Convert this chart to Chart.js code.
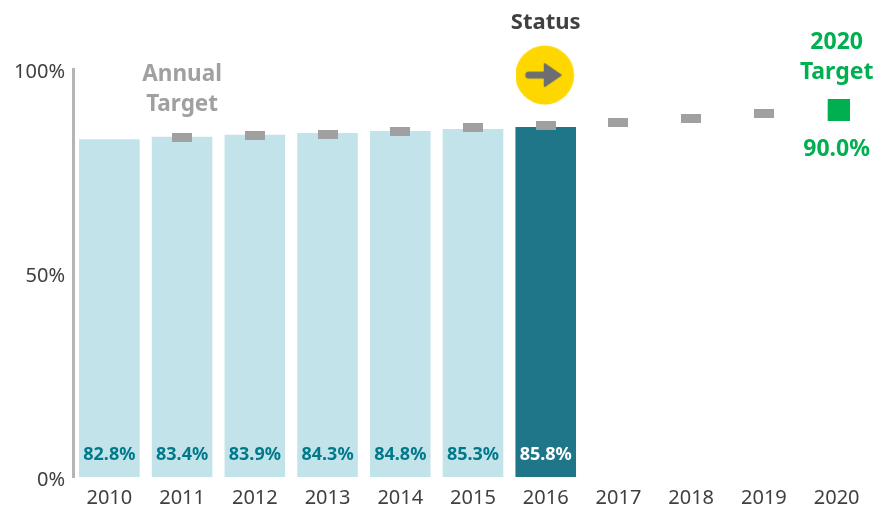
<!DOCTYPE html>
<html>
<head>
<meta charset="utf-8">
<style>
    html, body { margin: 0; padding: 0; background: #fff; }
    canvas { display: block; }
</style>
<script src="https://cdn.jsdelivr.net/npm/chart.js@4"></script>
</head>
<body>
<canvas id="targetChart" width="889" height="508"></canvas>
<script>
// chart data
const years = ['2010', '2011', '2012', '2013', '2014', '2015', '2016', '2017', '2018', '2019', '2020'];
const actualValues = [82.8, 83.4, 83.9, 84.3, 84.8, 85.3, 85.8, null, null, null, null];
const annualTargets = [null, 83.1, 83.7, 84.0, 84.8, 85.7, 86.1, 86.9, 87.9, 89.1, null];
const finalTarget = [null, null, null, null, null, null, null, null, null, null, 90.0];
const statusMarker = [null, null, null, null, null, null, 98.5, null, null, null, null];
const yTicks = [0, 50, 100];

const FONT = '"Noto Sans", "Open Sans", sans-serif';
const LIGHT_BAR = '#C2E3EA';
const DARK_BAR = '#1F7689';
const GREY = '#A0A0A0';
const GREEN = '#00B050';

// grey dash for the annual targets, wider than the built in rect style
function makeTargetDash() {
    var c = document.createElement('canvas');
    c.width = 20;
    c.height = 9;
    var g = c.getContext('2d');
    g.fillStyle = GREY;
    g.fillRect(0, 0, 20, 9);
    return c;
}

// green square, sits a little right of the category centre in the original
function makeFinalSquare() {
    var c = document.createElement('canvas');
    c.width = 26;
    c.height = 22;
    var g = c.getContext('2d');
    g.fillStyle = GREEN;
    g.fillRect(4, 0, 22, 22);
    return c;
}

// yellow circle with the sideways arrow
function makeStatusIcon() {
    var c = document.createElement('canvas');
    c.width = 60;
    c.height = 60;
    var g = c.getContext('2d');
    g.fillStyle = '#FFD700';
    g.beginPath();
    g.arc(29, 30, 29.4, 0, Math.PI * 2);
    g.fill();
    g.fillStyle = '#6D6E71';
    g.strokeStyle = '#6D6E71';
    g.lineCap = 'round';
    g.lineWidth = 7;
    g.beginPath();
    g.moveTo(13, 30);
    g.lineTo(31, 30);
    g.stroke();
    g.lineJoin = 'round';
    g.lineWidth = 2;
    g.beginPath();
    g.moveTo(29, 19);
    g.lineTo(45, 30);
    g.lineTo(29, 41);
    g.closePath();
    g.fill();
    g.stroke();
    return c;
}

function drawText(ctx, text, x, y, font, color) {
    ctx.font = font;
    ctx.fillStyle = color;
    ctx.textAlign = 'center';
    ctx.textBaseline = 'alphabetic';
    ctx.fillText(text, x, y);
}

const labelsPlugin = {
    id: 'labelsPlugin',
    afterDraw(chart) {
        var ctx = chart.ctx;
        var xs = chart.scales.x;
        ctx.save();

        // values inside the bars
        actualValues.forEach((v, i) => {
            if (v === null) return;
            var color = i === 6 ? '#FFFFFF' : '#007A8A';
            drawText(ctx, v.toFixed(1) + '%', xs.getPixelForValue(i), 460, 'bold 18px ' + FONT, color);
        });

        drawText(ctx, 'Annual', xs.getPixelForValue(1), 81, 'bold 22.5px ' + FONT, GREY);
        drawText(ctx, 'Target', xs.getPixelForValue(1), 111, 'bold 22.5px ' + FONT, GREY);
        drawText(ctx, 'Status', xs.getPixelForValue(6), 29, 'bold 22px ' + FONT, '#404040');
        drawText(ctx, '2020', xs.getPixelForValue(10), 49, 'bold 23px ' + FONT, GREEN);
        drawText(ctx, 'Target', xs.getPixelForValue(10), 79, 'bold 23px ' + FONT, GREEN);
        drawText(ctx, finalTarget[10].toFixed(1) + '%', xs.getPixelForValue(10), 156, 'bold 23px ' + FONT, GREEN);

        ctx.restore();
    }
};

var ctx = document.getElementById('targetChart').getContext('2d');
var chart = new Chart(ctx, {
    type: 'bar',
    data: {
        labels: years,
        datasets: [
            {
                label: 'Actual',
                data: actualValues,
                backgroundColor: years.map((y, i) => i === 6 ? DARK_BAR : LIGHT_BAR),
                categoryPercentage: 1,
                barPercentage: 0.833,
                order: 4
            },
            {
                type: 'line',
                label: 'Annual Target',
                data: annualTargets,
                showLine: false,
                pointStyle: makeTargetDash(),
                clip: false,
                order: 3
            },
            {
                type: 'line',
                label: '2020 Target',
                data: finalTarget,
                showLine: false,
                pointStyle: makeFinalSquare(),
                clip: false,
                order: 2
            },
            {
                type: 'line',
                label: 'Status',
                data: statusMarker,
                showLine: false,
                pointStyle: makeStatusIcon(),
                clip: false,
                order: 1
            }
        ]
    },
    options: {
        responsive: false,
        animation: false,
        layout: {
            padding: { top: 69, right: 16, left: 0, bottom: 0 }
        },
        plugins: {
            legend: { display: false },
            tooltip: { enabled: false }
        },
        scales: {
            x: {
                grid: { display: false, drawTicks: false },
                border: { display: false },
                ticks: {
                    color: '#404040',
                    font: { family: FONT, size: 20 },
                    padding: 9,
                    maxRotation: 0,
                    autoSkip: false
                },
                afterFit(scale) { scale.height = 31; }
            },
            y: {
                min: 0,
                max: 100,
                afterBuildTicks(scale) { scale.ticks = yTicks.map(v => ({ value: v })); },
                grid: { display: false, drawTicks: false },
                border: { display: true, color: '#B5B5B5', width: 3 },
                ticks: {
                    color: '#404040',
                    font: { family: FONT, size: 20 },
                    padding: 8,
                    labelOffset: 3,
                    callback: v => v + '%'
                },
                afterFit(scale) { scale.width = 73; }
            }
        }
    },
    plugins: [labelsPlugin]
});
</script>
</body>
</html>
